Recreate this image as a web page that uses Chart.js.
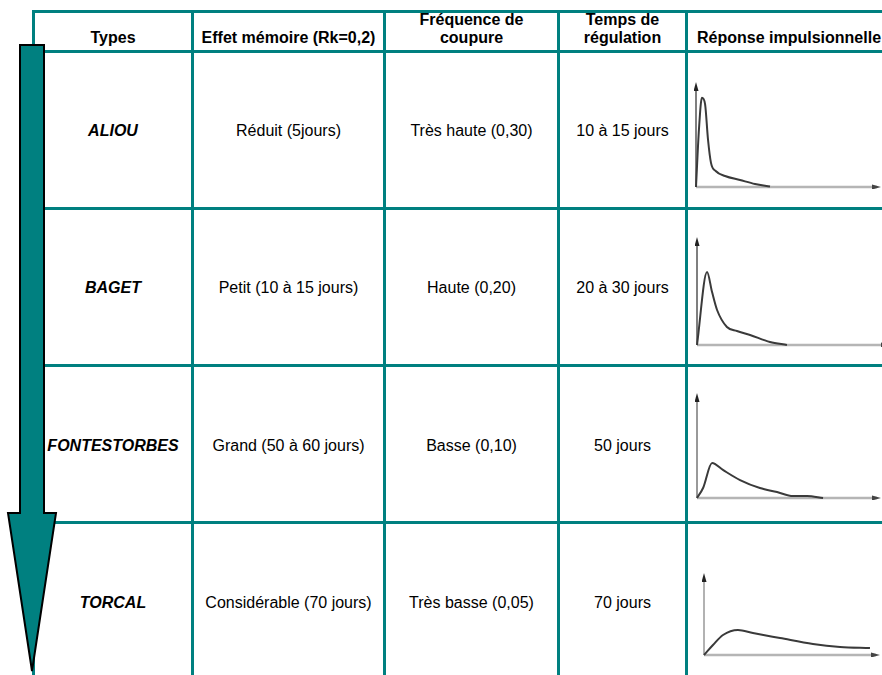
<!DOCTYPE html>
<html>
<head>
<meta charset="utf-8">
<script src="https://cdn.jsdelivr.net/npm/chart.js@4.4.1/dist/chart.umd.min.js"></script>
<style>
  html, body { margin: 0; padding: 0; background: #fff; }
  body { width: 882px; height: 675px; position: relative; overflow: hidden;
         font-family: "Liberation Sans", Arial, Helvetica, sans-serif; color: #000; }
  .ln { position: absolute; background: #008080; }
  .tx { position: absolute; font-size: 16px; line-height: 18px; white-space: nowrap; text-align: center; }
  .hd { font-weight: bold; }
  .nm { font-weight: bold; font-style: italic; }
  canvas.mini { position: absolute; }
  svg.arrow { position: absolute; left: 0; top: 0; }
</style>
</head>
<body>
<script>
// ---------- DATA ----------
const headers = ['Types', 'Effet mémoire (Rk=0,2)', 'Fréquence de\ncoupure', 'Temps de\nrégulation', 'Réponse impulsionnelle'];
const categories = ['ALIOU', 'BAGET', 'FONTESTORBES', 'TORCAL'];
const effetMemoire = ['Réduit (5jours)', 'Petit (10 à 15 jours)', 'Grand (50 à 60 jours)', 'Considérable (70 jours)'];
const frequenceCoupure = ['Très haute (0,30)', 'Haute (0,20)', 'Basse (0,10)', 'Très basse (0,05)'];
const tempsRegulation = ['10 à 15 jours', '20 à 30 jours', '50 jours', '70 jours'];

// impulse responses (relative time, relative amplitude)
const aliouT = [0, 1.6, 3.2, 4.9, 6.5, 8.1, 10.8, 15.7, 23.8, 31.9, 40];
const aliouR = [0, 55, 85, 79, 45, 23, 15, 10.5, 6.7, 2.9, 0.5];
const bagetT = [0, 5.2, 7.8, 10.4, 15.5, 20.7, 27.5, 37.8, 46.6];
const bagetR = [0, 67.6, 49, 32.4, 16.7, 13, 9.3, 2.8, 0];
const fontT  = [0, 3.3, 8.2, 14.1, 23.4, 34.2, 43.5, 52.2, 59.8, 68.5];
const fontR  = [0, 9.5, 33.3, 26.7, 17.1, 9.5, 5.7, 1.9, 1.9, 0];
const torcalT = [0, 5.1, 10.8, 19.3, 27.8, 43.2, 61.9, 77.3, 94.3];
const torcalR = [0, 12.2, 24.4, 30.5, 26.8, 20.7, 13.4, 9.8, 8.5];

// ---------- LAYOUT ----------
const T = '#008080';
function addLine(l, t, w, h) {
  const d = document.createElement('div');
  d.className = 'ln';
  Object.assign(d.style, { left: l + 'px', top: t + 'px', width: w + 'px', height: h + 'px' });
  document.body.appendChild(d);
}
function addText(txt, cls, cx, top, w, align) {
  const d = document.createElement('div');
  d.className = 'tx ' + cls;
  d.innerHTML = txt.split('\n').join('<br>');
  const width = w || 200;
  if (align === 'left') {
    Object.assign(d.style, { left: cx + 'px', top: top + 'px', textAlign: 'left' });
  } else {
    Object.assign(d.style, { left: (cx - width / 2) + 'px', top: top + 'px', width: width + 'px' });
  }
  document.body.appendChild(d);
}

// grid lines
[10, 50, 207, 364, 521].forEach(y => addLine(32, y, 860, 3));
[32, 191, 383, 557, 685].forEach(x => addLine(x, 10, 3, 670));

// header
const colCenters = [113, 288.5, 471.5, 622.5];
addText(headers[0], 'hd', colCenters[0], 28.5, 160);
addText(headers[1], 'hd', colCenters[1], 28.5, 200);
addText(headers[2], 'hd', colCenters[2], 10.5, 180);
addText(headers[3], 'hd', colCenters[3], 10.5, 130);
addText(headers[4], 'hd', 697, 28.5, 0, 'left');

// rows
const rowTops = [121.5, 278.5, 436.5, 593.5];
for (let i = 0; i < 4; i++) {
  addText(categories[i], 'nm', colCenters[0], rowTops[i], 160);
  addText(effetMemoire[i], '', colCenters[1], rowTops[i], 200);
  addText(frequenceCoupure[i], '', colCenters[2], rowTops[i], 180);
  addText(tempsRegulation[i], '', colCenters[3], rowTops[i], 130);
}

// big arrow
const svgNS = 'http://www.w3.org/2000/svg';
const svg = document.createElementNS(svgNS, 'svg');
svg.setAttribute('class', 'arrow');
svg.setAttribute('width', '882'); svg.setAttribute('height', '675');
const poly = document.createElementNS(svgNS, 'polygon');
poly.setAttribute('points', '20,45 44,45 44,513 56,513 32,671 8,513 20,513');
poly.setAttribute('fill', T);
poly.setAttribute('stroke', '#000');
poly.setAttribute('stroke-width', '2');
poly.setAttribute('stroke-linejoin', 'miter');
svg.appendChild(poly);
document.body.appendChild(svg);

// ---------- MINI CHARTS ----------
const axesPlugin = {
  id: 'axesArrows',
  beforeDatasetsDraw(chart, args, opts) {
    const { ctx, chartArea: a, scales: { x, y } } = chart;
    const x0 = x.getPixelForValue(0), y0 = y.getPixelForValue(0);
    ctx.save();
    // x axis
    ctx.strokeStyle = opts.xColor || '#b5b5b5';
    ctx.lineWidth = 2.5;
    ctx.beginPath(); ctx.moveTo(x0, y0); ctx.lineTo(a.right - 4, y0); ctx.stroke();
    ctx.fillStyle = '#444';
    ctx.beginPath(); ctx.moveTo(a.right, y0); ctx.lineTo(a.right - 9, y0 - 2.5); ctx.lineTo(a.right - 9, y0 + 2.5); ctx.closePath(); ctx.fill();
    // y axis
    ctx.strokeStyle = opts.yColor || '#666';
    ctx.lineWidth = 1.5;
    ctx.beginPath(); ctx.moveTo(x0, y0); ctx.lineTo(x0, a.top + 5); ctx.stroke();
    ctx.fillStyle = '#222';
    ctx.beginPath(); ctx.moveTo(x0, a.top); ctx.lineTo(x0 - 2.5, a.top + 9); ctx.lineTo(x0 + 2.5, a.top + 9); ctx.closePath(); ctx.fill();
    ctx.restore();
  }
};

const minis = [
  { t: aliouT, r: aliouR, left: 694, top: 76, w: 190, h: 113, yColor: '#555' },
  { t: bagetT, r: bagetR, left: 695, top: 231, w: 198, h: 116, yColor: '#555' },
  { t: fontT, r: fontR, left: 695, top: 387, w: 189, h: 113, yColor: '#777' },
  { t: torcalT, r: torcalR, left: 702, top: 567, w: 181, h: 90, yColor: '#999' }
];

minis.forEach(m => {
  const c = document.createElement('canvas');
  c.className = 'mini';
  c.width = m.w; c.height = m.h;
  c.style.left = m.left + 'px'; c.style.top = m.top + 'px';
  c.style.width = m.w + 'px'; c.style.height = m.h + 'px';
  document.body.appendChild(c);
  new Chart(c, {
    type: 'line',
    data: {
      datasets: [{
        data: m.t.map((v, i) => ({ x: v, y: m.r[i] })),
        borderColor: '#3a3a3a',
        borderWidth: 2,
        pointRadius: 0,
        cubicInterpolationMode: 'monotone',
        fill: false,
        clip: false
      }]
    },
    options: {
      responsive: false,
      animation: false,
      devicePixelRatio: 1,
      layout: { padding: { left: 2, top: 6, right: 3, bottom: 2 } },
      plugins: { legend: { display: false }, tooltip: { enabled: false },
                 axesArrows: { yColor: m.yColor } },
      scales: {
        x: { type: 'linear', min: 0, max: 100, display: false },
        y: { type: 'linear', min: 0, max: 100, display: false }
      }
    },
    plugins: [axesPlugin]
  });
});
</script>
</body>
</html>
